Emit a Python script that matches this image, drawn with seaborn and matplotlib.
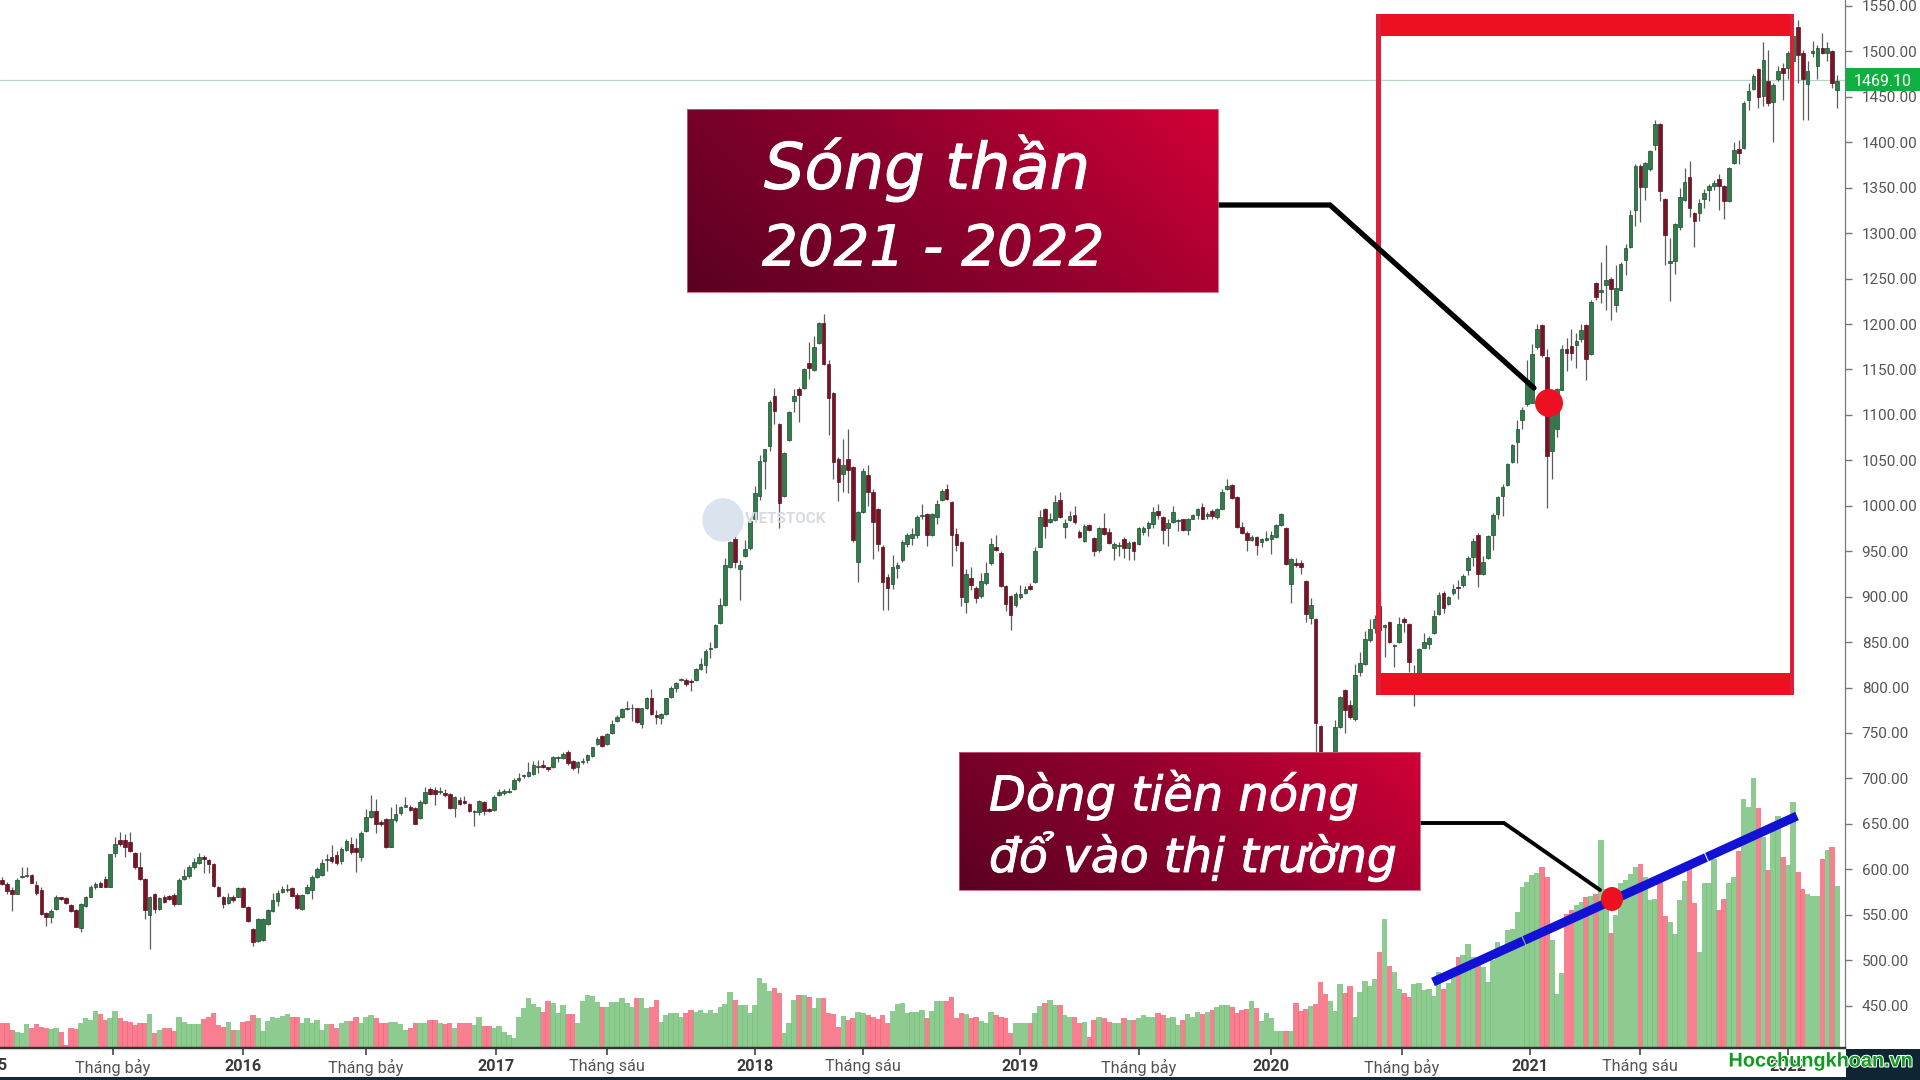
import numpy as np
import pandas as pd
import matplotlib
matplotlib.use("Agg")
import matplotlib.pyplot as plt
import matplotlib.patheffects as pe
from matplotlib.colors import LinearSegmentedColormap
from matplotlib.patches import Rectangle, Ellipse
import seaborn as sns

# weekly candles: (open, close, high, low)
candles_2015 = [
    (588,584,592,583),(584,576,586,573),(577,573,580,554),(573,588,590,573),(591,593,602,590),(593,594,602,592),(594,585,595,585),
    (583,574,587,572),(577,551,580,550),(552,548,553,538),(548,554,556,541),(556,570,572,555),(569,567,570,566),
    (568,563,569,562),(561,554,562,553),(555,537,556,536),(535,562,563,531),(560,569,571,559),(570,580,583,569),
    (581,584,586,578),(585,581,587,580),(589,581,593,580),(580,617,617,580),(618,628,635,614),(632,628,641,626),
    (632,625,639,614),(630,620,641,619),(618,603,619,600),(603,589,619,588),(589,555,590,545),(550,570,571,512),
    (573,556,574,552),(556,568,569,555),(570,564,572,563),(571,567,572,566),(572,562,574,560),(562,588,590,562),
    (589,593,600,588),(593,602,605,590),(603,608,612,600),(607,613,618,606),(613,611,616,596),(610,606,611,596),
    (606,582,607,581),(581,571,582,570),(570,562,571,557),(563,569,574,562),(570,566,572,564),(570,579,581,569),
    (579,559,580,558),(559,543,560,542),
]
candles_2016 = [
    (534,520,535,515),(521,545,546,520),(522,545,546,521),(540,555,556,539),(554,566,574,553),(565,574,577,560),
    (575,578,582,574),(577,578,584,575),(579,571,581,569),(572,557,574,556),(556,572,573,555),(574,580,584,573),
    (577,592,594,567),(592,600,602,590),(594,607,611,593),(610,611,617,598),(614,609,627,607),(616,607,620,605),
    (609,622,624,606),(621,631,633,620),(628,619,635,617),(623,619,634,597),(614,640,642,609),(642,658,666,641),
    (658,664,682,656),(664,650,677,640),(652,650,654,648),(655,625,656,623),(625,655,668,624),(654,661,672,652),
    (662,668,670,660),(669,671,680,668),(669,665,671,664),(667,650,668,650),(656,674,676,655),(673,685,691,672),
    (688,683,691,682),(687,683,691,671),(685,686,691,683),(684,682,688,680),(683,667,684,666),(667,679,681,658),
    (676,672,679,671),(675,673,681,672),(672,664,673,663),(663,664,665,648),(663,675,676,660),(674,664,675,660),
    (666,664,667,663),(665,680,682,664),
]
candles_2017 = [
    (682,685,688,681),(684,686,688,682),(685,686,689,684),(688,698,700,687),(698,700,706,696),(703,704,705,700),(703,707,718,702),
    (705,715,719,704),(713,714,720,706),(715,712,720,711),(712,710,713,708),(712,723,725,711),(722,723,725,718),
    (722,727,729,721),(729,717,731,715),(719,711,720,709),(712,718,719,706),(718,719,722,716),(720,726,727,717),
    (725,734,735,724),(738,743,745,737),(747,736,748,735),(738,749,750,737),(750,760,764,749),(763,768,770,762),
    (768,776,778,767),(776,777,785,775),(777,778,782,763),(777,762,778,761),(760,777,778,755),(777,789,790,776),
    (789,771,798,770),(770,768,775,760),(766,771,772,760),(771,788,789,770),(790,800,802,789),(800,805,806,795),
    (808,809,811,807),(808,804,810,802),(807,806,809,796),(808,820,821,807),(820,826,833,819),(825,840,842,816),
    (842,844,850,832),(845,869,870,844),(871,891,898,870),(891,935,942,890),(933,960,961,932),(963,938,975,931),
    (930,935,940,896),(945,952,962,944),(953,983,987,951),
]
candles_2018 = [
    (986,1014,1022,985),(1011,1049,1056,1006),(1049,1062,1063,1019),(1066,1114,1116,1060),(1121,1104,1130,1090),
    (1090,1003,1091,975),(1011,1058,1059,1010),(1072,1103,1104,1071),(1115,1121,1128,1103),(1129,1122,1131,1092),
    (1130,1150,1152,1129),(1157,1152,1180,1140),(1149,1175,1187,1148),(1179,1201,1202,1178),(1201,1156,1211,1155),
    (1156,1119,1160,1078),(1124,1048,1125,1030),(1052,1026,1054,1005),(1035,1045,1073,1015),(1051,1039,1084,1014),
    (1043,962,1044,960),(938,993,994,916),(993,1038,1042,992),(1034,1015,1045,1000),(1015,982,1019,941),
    (997,958,998,950),(955,916,957,885),(922,909,925,885),(914,933,946,908),(931,935,938,920),(940,960,962,938),
    (958,968,970,955),(965,969,975,957),(968,988,990,965),(989,990,1002,986),(991,968,992,956),(968,991,992,967),
    (988,1002,1006,980),(1006,1016,1018,1005),(1019,1007,1024,1006),(1004,968,1005,934),(969,957,975,950),
    (960,900,961,890),(894,925,930,882),(920,913,933,907),(909,898,912,893),(901,917,926,899),(915,926,938,913),
    (937,958,964,935),(955,951,968,950),(948,912,950,911),(912,892,913,884),(901,880,902,863),
]
candles_2019 = [
    (891,903,905,889),(900,903,913,897),(904,908,912,903),(912,908,915,907),(916,950,955,915),(955,988,995,955),
    (996,978,998,965),(982,985,992,981),(984,1004,1012,983),(1006,988,1015,987),(977,981,986,965),(984,989,994,983),
    (990,982,1000,980),(971,966,973,964),(961,978,980,960),(979,973,980,972),(965,950,966,945),(951,975,977,949),
    (975,969,992,968),(971,959,975,958),(953,958,960,940),(956,957,960,945),(963,953,966,942),(953,959,961,940),(960,950,961,940),
    (958,975,977,957),(971,976,978,968),(975,981,983,967),(980,993,999,976),(994,990,1002,985),(988,973,989,958),
    (975,981,985,956),(982,993,1000,981),(983,984,986,972),(985,973,986,972),(973,986,987,968),(986,990,991,985),
    (990,997,998,985),(999,986,1003,985),(989,991,993,985),(994,989,996,986),(988,996,998,985),(997,1015,1018,996),
    (1018,1022,1029,1017),(1023,1009,1024,1008),(1010,977,1011,976),(977,970,982,969),(970,962,972,950),
    (962,966,968,961),(966,957,967,946),(960,963,965,955),(962,965,972,961),(963,968,972,947),
]
candles_2020 = [
    (966,979,980,965),(979,991,992,978),(976,936,977,935),(914,941,943,893),(937,935,942,933),(937,933,940,925),
    (917,881,918,872),(877,891,898,870),(875,761,876,727),(758,700,759,680),(700,690,710,660),(680,715,725,670),
    (715,757,764,713),(757,790,791,756),(797,775,798,750),(781,768,786,765),(765,814,826,763),(817,827,839,813),
    (826,853,862,825),(852,864,875,850),(865,875,880,860),(890,863,905,843),(867,869,870,834),(872,850,873,849),
    (846,847,848,823),(850,870,878,849),(875,872,878,861),(870,828,871,817),(800,812,825,780),(815,842,843,814),
    (844,850,860,843),(848,855,857,842),(860,879,885,859),(881,902,905,880),(904,888,906,882),(892,900,901,891),
    (904,908,914,902),(911,909,918,897),(913,923,925,911),(929,943,945,924),(944,961,964,934),(968,925,970,911),
    (925,938,945,924),(942,967,968,941),(968,990,992,951),(991,1010,1011,986),(1011,1021,1024,989),
    (1023,1046,1047,1022),(1048,1067,1068,1047),(1070,1084,1094,1047),(1094,1105,1109,1084),
]
candles_2021 = [
    (1112,1138,1160,1110),(1113,1167,1178,1113),(1175,1194,1200,1173),(1199,1166,1200,1164),(1164,1055,1172,998),
    (1060,1105,1110,1030),(1085,1128,1130,1076),(1127,1173,1177,1127),(1173,1168,1185,1148),(1176,1168,1195,1160),
    (1177,1181,1190,1152),(1183,1193,1200,1180),(1199,1161,1200,1138),(1167,1224,1226,1166),(1245,1230,1246,1227),
    (1235,1238,1268,1223),(1243,1248,1287,1215),(1250,1239,1252,1204),(1221,1240,1265,1213),(1238,1266,1268,1237),
    (1271,1284,1288,1254),(1285,1320,1326,1284),(1325,1374,1376,1308),(1374,1351,1376,1312),(1351,1377,1378,1337),
    (1371,1390,1392,1368),(1397,1420,1424,1392),(1420,1346,1421,1335),(1338,1298,1339,1265),(1267,1269,1295,1225),
    (1269,1310,1311,1255),(1307,1340,1350,1304),(1336,1356,1372,1335),(1362,1328,1379,1318),(1322,1313,1323,1285),
    (1322,1333,1338,1313),(1338,1344,1349,1328),(1347,1352,1354,1335),(1352,1355,1358,1348),(1360,1352,1365,1325),(1352,1335,1353,1316),
    (1335,1372,1373,1334),(1377,1391,1400,1376),(1393,1388,1402,1376),(1394,1443,1446,1393),(1447,1456,1465,1435),
    (1459,1473,1475,1458),(1481,1450,1482,1438),(1451,1491,1510,1440),(1467,1443,1502,1440),(1444,1463,1465,1400),
    (1470,1479,1484,1468),(1482,1476,1487,1447),
]
candles_2022 = [
    (1482,1498,1500,1470),(1490,1517,1518,1470),(1527,1496,1535,1465),(1498,1470,1502,1424),(1464,1478,1490,1425),
    (1498,1501,1512,1494),(1484,1504,1507,1470),(1504,1498,1520,1497),(1498,1504,1510,1490),(1500,1465,1502,1460),
    (1458,1468,1474,1438),
]

# volume bar heights, same scale as the price pane
volume_a = [28,27,20,18,17,26,22,26,23,22,21,22,18,3,22,21,28,33,31,41,37,31,33,41,33,30,29,25,27,28,37,17,20,22,22,19,
            34,29,26,26,26,32,34,38,25,23,29,20,20,29,30,36,33,19,30,34,33,35,37,34,34,28,33,28,31,20,26,26,22,27,30,30,
            34,27,34,36,33,28,28,29,29,26,20,22,28,28,28,31,31,28,26,28,22,28,28,28,25,34,24,24,22,24,18,14,11,34,44,55,
            48,45,40,52,49,39,47,37,37,28,52,58,57,51,45,45,51,51,55,49,45,55,55,44,45,53,29,36,39,38,34,38,42,40]
volume_b = [42,39,42,38,45,48,62,53,47,47,39,47,77,72,63,66,61,17,28,53,58,58,56,44,55,55,39,37,23,35,31,33,40,39,36,34,
            32,36,28,41,48,50,39,40,40,42,33,41,52,52,52,56,33,39,37,33,34,30,28,40,36,34,33,17,27,28,28,27,39,46,50,53,
            47,47,36,34,34,27,29,12,31,34,33,29,28,28,33,31,31,33,36,34,34,39,36,33,34,25,31,37,34,40,37,40,42,45,47,47,
            45,39,42,43,52,44,30,39,33,19,19,19]
volume_c = [19,50,41,43,46,48,73,59,52,41,70,60,68,34,62,74,68,76,106,142,90,84,65,61,56,70,71,64,65,57,84,65,71,82,100,102,
            114,100,93,89,73,97,117,104,130,131,150,177,183,190,193,199,188,119,59,83,148,152,157,161,166,167,170,229,175,
            127,146,182,185,192,199,202,188,163,164,186,145,139,125,163,184,197,160,106,182,182,208,152,164,182,188,217,274,
            265,297,264,232,196,241,255,210,201,271,194,175,170,167,167,208,218,221,178]

tick_pos = [22.5, 49, 74, 100.5, 123, 153, 175, 207, 231, 258, 284.5, 310.5, 333, 363]
tick_text = ["Tháng bảy", "2016", "Tháng bảy", "2017", "Tháng sáu", "2018", "Tháng sáu", "2019", "Tháng bảy",
             "2020", "Tháng bảy", "2021", "Tháng sáu", "2022"]
price_ticks = list(range(450, 1551, 50))
last_price = 1469.10

sns.set_style("white")
plt.rcParams["font.family"] = ["Roboto", "DejaVu Sans"]

rows = candles_2015 + candles_2016 + candles_2017 + candles_2018 + candles_2019 + candles_2020 + candles_2021 + candles_2022
candles = pd.DataFrame(rows, columns=["open", "close", "high", "low"])
candles["idx"] = np.arange(len(candles))
candles["trend"] = np.where(candles["close"] >= candles["open"], "up", "down")

volumes = volume_a + volume_b + volume_c
vol = pd.DataFrame({"idx": np.arange(len(volumes)), "volume": volumes})
vol["trend"] = candles["trend"].reindex(vol.index).fillna("up")

W, H = 1920, 1080
fig = plt.figure(figsize=(W / 100, H / 100), dpi=100, facecolor="white")
ax_vol = fig.add_axes([0, 32 / H, 1845 / W, 1048 / H])
ax = ax_vol.twinx()
ax_vol.set_zorder(1)
ax.set_zorder(2)
ax.patch.set_visible(False)

sns.barplot(data=vol, x="idx", y="volume", hue="trend", native_scale=True, dodge=False, width=1.12, gap=0,
            palette={"up": "#79c27d", "down": "#f7697b"}, saturation=1, errorbar=None, legend=False,
            alpha=0.85, linewidth=0, ax=ax_vol)
ax_vol.set_ylim(0, 1153.3)
ax_vol.set_xlim(-0.41, 374.6)
ax_vol.set_xlabel("")
ax_vol.set_ylabel("")
ax_vol.set_yticks([])

ax.vlines(candles["idx"], candles["low"], candles["high"], color="#5c5c5c", lw=0.9, zorder=2)
for trend, face in [("up", "#2f7d4a"), ("down", "#781428")]:
    part = candles[candles["trend"] == trend]
    ax.bar(part["idx"], part["close"] - part["open"], bottom=part["open"], width=0.74, color=face,
           edgecolor="#1f4a2e" if trend == "up" else "#5a0f1e", linewidth=0.5, zorder=3)

ax.axhline(last_price, color="#b5d8c6", lw=0.9, zorder=1)
ax.set_ylim(403.3, 1556.6)
ax.set_xlim(-0.41, 374.6)
ax.set_yticks(price_ticks)
ax.set_yticklabels([f"{p:.2f}" for p in price_ticks], fontsize=11, color="#555555")
ax.tick_params(axis="y", right=True, length=5, width=1, color="#777777", pad=7)
ax.set_ylabel("")

ax_vol.set_xticks(tick_pos)
ax_vol.set_xticklabels(tick_text, fontsize=11.7, color="#555555")
for lab in ax_vol.get_xticklabels():
    if lab.get_text().isdigit():
        lab.set_fontweight("bold")
        lab.set_color("#3a3a3a")
ax_vol.tick_params(axis="x", bottom=True, length=5, width=1.2, color="#444444", pad=3)
ax.tick_params(axis="x", bottom=False, labelbottom=False)
for a in (ax, ax_vol):
    for side in ("top", "left"):
        a.spines[side].set_visible(False)
    a.spines["right"].set_color("#777777")
    a.spines["bottom"].set_color("#333333")
    a.spines["bottom"].set_linewidth(1.6)

# overlay in pixel coordinates for the hand drawn annotation layer
over = fig.add_axes([0, 0, 1, 1], zorder=5)
over.patch.set_visible(False)
over.set_axis_off()

box_cmap = LinearSegmentedColormap.from_list("box", ["#5a0022", "#8e002d", "#d20036"])
thick = [pe.withStroke(linewidth=0.7, foreground="white")]


def grad_box(x0, x1, y0, y1):
    gx, gy = np.meshgrid(np.linspace(0, 1, 200), np.linspace(0, 1, 100))
    over.imshow(gx * 0.72 + (1 - gy) * 0.28, cmap=box_cmap, extent=(x0, x1, y1, y0), aspect="auto", zorder=6, vmin=0, vmax=1)
    over.add_patch(Rectangle((x0, y0), x1 - x0, y1 - y0, fill=False, ec="#c9607f", lw=0.6, zorder=7))


# watermark
over.add_patch(Ellipse((723, 520), 40, 42, color="#dbe4ee", zorder=1))
over.text(745, 519, "VIETSTOCK", fontsize=11, color="#d6dbe2", fontweight="bold", va="center", zorder=1)

# red frame
over.add_patch(Rectangle((1376, 14), 418, 22, color="#ec1020", lw=0, zorder=4))
over.add_patch(Rectangle((1376, 673), 418, 22, color="#ec1020", lw=0, zorder=4))
over.add_patch(Rectangle((1376, 14), 4.5, 681, color="#dc2038", lw=0, zorder=4))
over.add_patch(Rectangle((1789.5, 14), 4.5, 681, color="#dc2038", lw=0, zorder=4))

# callouts
over.plot([1218, 1330, 1534], [205, 205, 388], color="black", lw=3.8, solid_joinstyle="miter", zorder=5)
over.add_patch(Ellipse((1549, 403), 28, 28, color="#ec1020", lw=0, zorder=5))
over.plot([1420, 1504, 1600], [823, 823, 890], color="black", lw=2.8, solid_joinstyle="miter", zorder=5)
over.plot([1433, 1797], [982, 816], color="#1212d6", lw=6.5, ls=(0, (11, 0.12)), solid_capstyle="butt", zorder=5)
over.add_patch(Ellipse((1612, 899), 22, 24, color="#ec1020", lw=0, zorder=6))

grad_box(687, 1218, 109, 292)
grad_box(959, 1420, 752, 890)
over.text(764, 168, "Sóng thần", fontsize=46, style="italic", color="white", family=["DejaVu Sans"], va="center", zorder=8, path_effects=thick)
over.text(762, 250, "2021 - 2022", fontsize=40.5, style="italic", color="white", family=["DejaVu Sans"], va="center", zorder=8, path_effects=thick)
over.text(989, 795, "Dòng tiền nóng", fontsize=34.5, style="italic", color="white", family=["DejaVu Sans"], va="center", zorder=8, path_effects=thick)
over.text(989, 857, "đổ vào thị trường", fontsize=34, style="italic", color="white", family=["DejaVu Sans"], va="center", zorder=8, path_effects=thick)

# last price tag, bottom strip, footer
over.add_patch(Rectangle((1846, 68), 74, 23, color="#0eb13f", lw=0, zorder=8))
over.text(1883, 81, f"{last_price:.2f}", fontsize=11.5, color="white", ha="center", va="center", zorder=9)
over.add_patch(Rectangle((0, 1077), W, 3, color="#14283a", lw=0, zorder=8))
over.add_patch(Rectangle((1846, 1049), 74, 31, color="#0f2533", lw=0, zorder=8))
over.text(1821, 1061, "Hocchungkhoan.vn", fontsize=14.3, color="#109a22", fontweight="bold", ha="center", va="center",
          family=["Liberation Sans"], zorder=9, path_effects=[pe.withStroke(linewidth=1.5, foreground="white")])
over.text(-11, 1065, "2015", fontsize=11.7, fontweight="bold", color="#3a3a3a", ha="center", va="center", zorder=9)

over.set_xlim(0, W)
over.set_ylim(H, 0)

fig.savefig("out.png", dpi=100)
